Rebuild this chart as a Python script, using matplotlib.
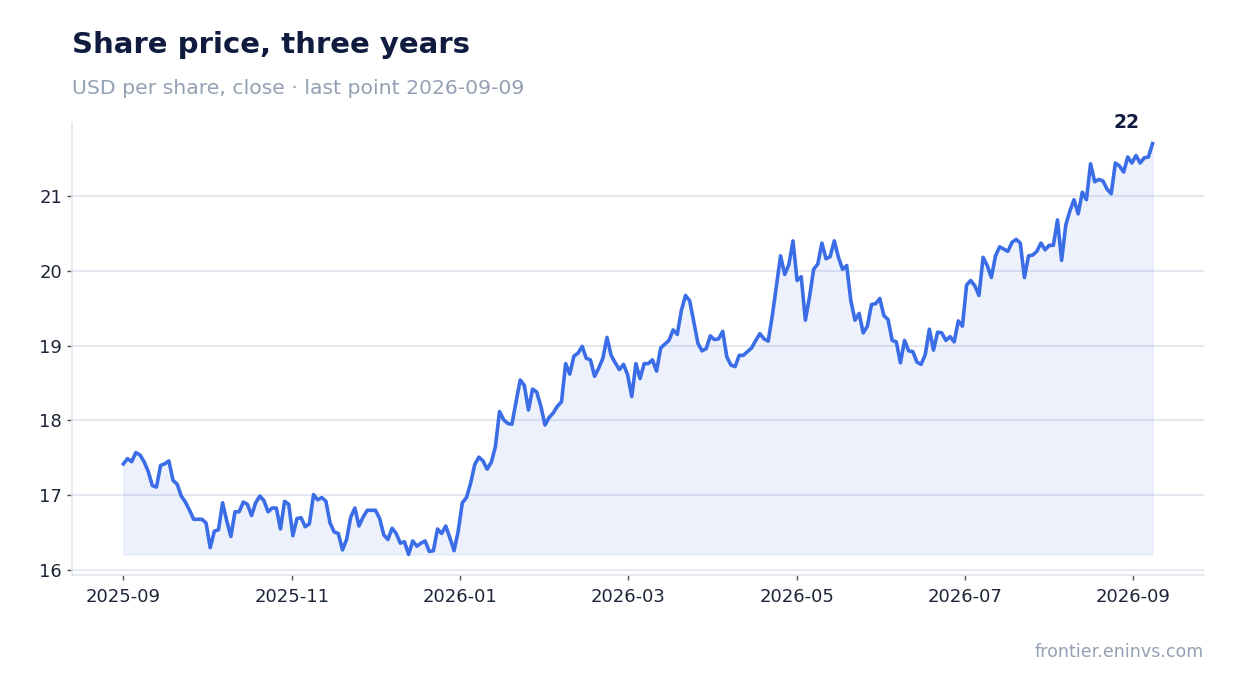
import numpy as np
import pandas as pd
import matplotlib
matplotlib.use("Agg")
import matplotlib.pyplot as plt
import matplotlib.dates as mdates

# daily closes, 2025-09-01 .. 2026-09-09
close_sep_oct = [17.42, 17.49, 17.45, 17.57, 17.54, 17.45, 17.32, 17.13, 17.11, 17.40,
                 17.42, 17.46, 17.20, 17.15, 16.99, 16.91, 16.80, 16.68, 16.68, 16.68,
                 16.63, 16.30, 16.52, 16.54, 16.90, 16.66, 16.45, 16.78, 16.78, 16.91,
                 16.88, 16.73, 16.90, 16.99, 16.93, 16.78, 16.83, 16.83, 16.55]
close_nov_dec = [16.92, 16.88, 16.46, 16.69, 16.70, 16.58, 16.62, 17.01, 16.94, 16.97,
                 16.92, 16.63, 16.51, 16.49, 16.27, 16.41, 16.71, 16.83, 16.59, 16.71,
                 16.80, 16.80, 16.80, 16.69, 16.47, 16.41, 16.56, 16.49, 16.36, 16.38,
                 16.21, 16.39, 16.32, 16.36, 16.39, 16.25, 16.26, 16.55, 16.49, 16.59,
                 16.43, 16.26]
close_jan_feb = [16.52, 16.90, 16.97, 17.16, 17.41, 17.51, 17.46, 17.35, 17.44, 17.65,
                 18.12, 18.01, 17.96, 17.95, 18.25, 18.54, 18.47, 18.14, 18.42, 18.38,
                 18.19, 17.94, 18.04, 18.10, 18.19, 18.25, 18.76, 18.62, 18.86, 18.90,
                 18.99, 18.83, 18.81, 18.59, 18.70, 18.83, 19.11, 18.87, 18.77, 18.68,
                 18.75, 18.61, 18.32]
close_mar_apr = [18.76, 18.56, 18.76, 18.76, 18.81, 18.66, 18.97, 19.02, 19.07, 19.21,
                 19.15, 19.47, 19.67, 19.60, 19.32, 19.03, 18.93, 18.96, 19.13, 19.08,
                 19.09, 19.19, 18.85, 18.74, 18.72, 18.87, 18.87, 18.92, 18.97, 19.07,
                 19.16, 19.09, 19.06, 19.40, 19.80, 20.20, 19.95, 20.08, 20.40]
close_may_jun = [19.87, 19.92, 19.34, 19.65, 20.02, 20.09, 20.37, 20.16, 20.19, 20.40,
                 20.18, 20.02, 20.07, 19.60, 19.34, 19.43, 19.17, 19.26, 19.55, 19.56,
                 19.63, 19.40, 19.35, 19.07, 19.05, 18.77, 19.07, 18.93, 18.92, 18.78,
                 18.75, 18.88, 19.22, 18.94, 19.18, 19.17, 19.07, 19.12, 19.05, 19.33,
                 19.26, 19.81, 19.87, 19.80]
close_jul_sep = [19.67, 20.18, 20.07, 19.91, 20.20, 20.32, 20.29, 20.26, 20.38, 20.42,
                 20.37, 19.91, 20.20, 20.21, 20.26, 20.37, 20.28, 20.34, 20.34, 20.68,
                 20.14, 20.61, 20.80, 20.95, 20.76, 21.05, 20.95, 21.43, 21.19, 21.22,
                 21.20, 21.09, 21.03, 21.44, 21.40, 21.32, 21.52, 21.44, 21.54, 21.44,
                 21.51, 21.52, 21.70]

close = np.array(close_sep_oct + close_nov_dec + close_jan_feb + close_mar_apr
                 + close_may_jun + close_jul_sep)
dates = pd.date_range("2025-09-01", "2026-09-09", periods=len(close))
tick_dates = pd.date_range("2025-09-01", periods=7, freq="61D")
y_ticks = [16, 17, 18, 19, 20, 21]

navy = "#0f1c3f"
blue = "#3b6ee6"
grey = "#94a0b4"

fig = plt.figure(figsize=(12.34, 6.93), dpi=100)
ax = fig.add_axes([0.0583, 0.1703, 0.9174, 0.6522])

ax.fill_between(dates, close, close.min(), color=blue, alpha=0.09, linewidth=1)
ax.plot(dates, close, color=blue, linewidth=2.6, solid_joinstyle="round")

ax.annotate(f"{close[-1]:.0f}", (dates[-1], close[-1]), xytext=(-19, 8),
            textcoords="offset points", ha="center", va="bottom",
            fontsize=13.5, fontweight="bold", color=navy)

ax.set_xticks(tick_dates)
ax.xaxis.set_major_formatter(mdates.DateFormatter("%Y-%m"))
ax.set_yticks(y_ticks)

ax.grid(axis="y", color="#dfe4ee", linewidth=1.2)
ax.grid(axis="x", visible=False)
ax.set_axisbelow(True)
for side in ["top", "right"]:
    ax.spines[side].set_visible(False)
for side in ["left", "bottom"]:
    ax.spines[side].set_color("#e1e5ec")
    ax.spines[side].set_linewidth(1.2)
ax.tick_params(axis="both", colors="#4a5163", labelcolor="#1c2538", labelsize=13,
               length=3.5, width=1)
ax.tick_params(axis="x", pad=6)

fig.text(0.0583, 0.935, "Share price, three years", fontsize=21, fontweight="bold",
         color=navy, va="center")
fig.text(0.0583, 0.873, "USD per share, close · last point 2026-09-09", fontsize=14.65,
         color=grey, va="center")
fig.text(0.9757, 0.059, "frontier.eninvs.com", fontsize=12.6, color=grey,
         ha="right", va="center")

fig.savefig("out.png", dpi=100)
